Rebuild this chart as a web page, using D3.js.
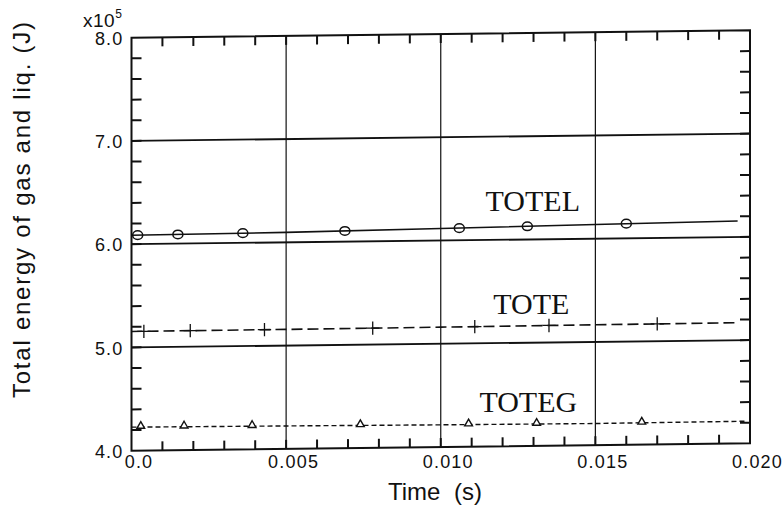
<!DOCTYPE html>
<html>
<head>
<meta charset="utf-8">
<script src="https://cdn.jsdelivr.net/npm/d3@7"></script>
<style>
  html, body { margin: 0; padding: 0; background: #fff; }
  svg { display: block; }
  .tick-label { font-family: "Liberation Sans", Arial, sans-serif; font-size: 18px; letter-spacing: 1.2px; fill: #111; }
  .axis-title { font-family: "Liberation Sans", Arial, sans-serif; font-size: 24px; fill: #111; }
  .series-label { font-family: "Liberation Serif", "Times New Roman", serif; font-size: 30px; fill: #111; }
</style>
</head>
<body>
<svg id="chart" width="784" height="512"></svg>
<script>
// Axis ranges and tick values
const timeDomain = [0, 0.02];
const energyDomain = [4.0, 8.0];
const timeTickLabels = [0, 0.005, 0.010, 0.015, 0.020];
const timeTickText = ["0.0", "0.005", "0.010", "0.015", "0.020"];
const energyTickLabels = [4.0, 5.0, 6.0, 7.0, 8.0];
const timeGrid = [0.005, 0.010, 0.015];
const energyGrid = [5.0, 6.0, 7.0];

// TOTEL (liquid) — solid line with circle markers, units of 1e5 J
const totelTime = [0, 0.005, 0.010, 0.015, 0.0196];
const totelValue = [6.086, 6.097, 6.116, 6.138, 6.155];
const totelMarkTime = [0.0002, 0.0015, 0.0036, 0.0069, 0.0106, 0.0128, 0.0160];
const totelMarkValue = [6.087, 6.089, 6.094, 6.104, 6.118, 6.128, 6.142];

// TOTE (total) — long-dashed line with plus markers
const toteTime = [0, 0.005, 0.010, 0.015, 0.0196];
const toteValue = [5.155, 5.157, 5.161, 5.166, 5.170];
const toteMarkTime = [0.0004, 0.0019, 0.0043, 0.0078, 0.0111, 0.0135, 0.0170];
const toteMarkValue = [5.155, 5.156, 5.157, 5.159, 5.162, 5.165, 5.168];

// TOTEG (gas) — short-dashed line with triangle markers
const totegTime = [0, 0.005, 0.010, 0.015, 0.0199];
const totegValue = [4.228, 4.222, 4.215, 4.210, 4.215];
const totegMarkTime = [0.0003, 0.0017, 0.0039, 0.0074, 0.0109, 0.0131, 0.0165];
const totegMarkValue = [4.228, 4.226, 4.223, 4.219, 4.214, 4.212, 4.211];

const ink = "#111";
const svg = d3.select("#chart");

const x = d3.scaleLinear().domain(timeDomain).range([131.5, 750]);
const y = d3.scaleLinear().domain(energyDomain).range([450.7, 37.7]);

// The plotting frame leans slightly, as on the original plotter sheet
const lean = Math.tan(-0.68 * Math.PI / 180);
const ly = (px, py) => py + lean * (px - x(0));

// Grid lines
svg.append("g").selectAll("line").data(timeGrid).join("line")
  .attr("x1", d => x(d)).attr("x2", d => x(d))
  .attr("y1", d => ly(x(d), y(energyDomain[1]))).attr("y2", d => ly(x(d), y(energyDomain[0])))
  .attr("stroke", ink).attr("stroke-width", 1.2);
svg.append("g").selectAll("line").data(energyGrid).join("line")
  .attr("x1", x(timeDomain[0])).attr("x2", x(timeDomain[1]))
  .attr("y1", d => ly(x(timeDomain[0]), y(d))).attr("y2", d => ly(x(timeDomain[1]), y(d)))
  .attr("stroke", ink).attr("stroke-width", 1.8);

// Inward minor ticks on all four sides
const minorTime = d3.range(1, 20).map(i => i * 0.001);
const minorEnergy = d3.range(1, 20).map(i => 4 + i * 0.2);
const tickLines = [];
minorTime.forEach(t => {
  tickLines.push({ x1: x(t), y1: ly(x(t), y(8)), x2: x(t), y2: ly(x(t), y(8)) + 9 });
  tickLines.push({ x1: x(t), y1: ly(x(t), y(4)), x2: x(t), y2: ly(x(t), y(4)) - 9 });
});
minorEnergy.forEach(v => {
  tickLines.push({ x1: x(0), y1: ly(x(0), y(v)), x2: x(0) + 10, y2: ly(x(0) + 10, y(v)) });
  tickLines.push({ x1: x(0.02), y1: ly(x(0.02), y(v)), x2: x(0.02) - 10, y2: ly(x(0.02) - 10, y(v)) });
});
svg.append("g").attr("class", "minor-ticks").selectAll("line").data(tickLines).join("line")
  .attr("x1", d => d.x1).attr("y1", d => d.y1).attr("x2", d => d.x2).attr("y2", d => d.y2)
  .attr("stroke", ink).attr("stroke-width", 2);

// Frame
const corners = [[0, 8], [0.02, 8], [0.02, 4], [0, 4]].map(([t, v]) => [x(t), ly(x(t), y(v))]);
svg.append("path").attr("d", d3.line()(corners) + "Z")
  .attr("fill", "none").attr("stroke", ink).attr("stroke-width", 2);

// Series lines
const line = d3.line().x(d => x(d[0])).y(d => ly(x(d[0]), y(d[1])));
const zip = (a, b) => a.map((v, i) => [v, b[i]]);

svg.append("path").datum(zip(totelTime, totelValue))
  .attr("d", line).attr("fill", "none").attr("stroke", ink).attr("stroke-width", 1.6);
svg.append("path").datum(zip(toteTime, toteValue))
  .attr("d", line).attr("fill", "none").attr("stroke", ink).attr("stroke-width", 1.6)
  .attr("stroke-dasharray", "11 5");
svg.append("path").datum(zip(totegTime, totegValue))
  .attr("d", line).attr("fill", "none").attr("stroke", ink).attr("stroke-width", 1.4)
  .attr("stroke-dasharray", "5 3");

// Markers
const px = d => x(d[0]);
const py = d => ly(x(d[0]), y(d[1]));
svg.append("g").selectAll("ellipse").data(zip(totelMarkTime, totelMarkValue)).join("ellipse")
  .attr("cx", px).attr("cy", py)
  .attr("rx", 5).attr("ry", 4.3)
  .attr("fill", "none").attr("stroke", ink).attr("stroke-width", 1.5);
svg.append("g").selectAll("path").data(zip(toteMarkTime, toteMarkValue)).join("path")
  .attr("transform", d => `translate(${px(d)},${py(d)})`)
  .attr("d", d3.symbol(d3.symbolPlus, 60)())
  .attr("fill", "none").attr("stroke", ink).attr("stroke-width", 1.3);
svg.append("g").selectAll("path").data(zip(totegMarkTime, totegMarkValue)).join("path")
  .attr("transform", d => `translate(${px(d)},${py(d) - 1})`)
  .attr("d", d3.symbol(d3.symbolTriangle, 26)())
  .attr("fill", "#fff").attr("stroke", ink).attr("stroke-width", 1.4);

// Series names
const seriesNames = ["TOTEL", "TOTE", "TOTEG"];
const namePos = [[0.01145, 6.28], [0.0117, 5.28], [0.01125, 4.33]];
svg.append("g").selectAll("text").data(seriesNames).join("text")
  .attr("class", "series-label")
  .attr("x", (d, i) => x(namePos[i][0]))
  .attr("y", (d, i) => ly(x(namePos[i][0]), y(namePos[i][1])))
  .text(d => d);

// Tick labels
const xl = svg.append("g").attr("transform", `translate(7,${y(4)})`)
  .call(d3.axisBottom(x).tickValues(timeTickLabels).tickSize(0).tickPadding(5)
    .tickFormat((d, i) => timeTickText[i]));
xl.select(".domain").remove();
xl.selectAll("text").attr("class", "tick-label");

const yl = svg.append("g").attr("transform", `translate(${x(0)},1)`)
  .call(d3.axisLeft(y).tickValues(energyTickLabels).tickSize(0).tickPadding(8)
    .tickFormat(d3.format(".1f")));
yl.select(".domain").remove();
yl.selectAll("text").attr("class", "tick-label");
[xl, yl].forEach(g => g.attr("font-size", null).attr("font-family", null));

// Exponent marker
const expo = svg.append("text").attr("class", "tick-label").attr("x", 83).attr("y", 27)
  .style("font-size", "19px").style("letter-spacing", "0.5px");
expo.append("tspan").text("x10");
expo.append("tspan").attr("dy", -9).style("font-size", "12px").text("5");

// Axis titles
svg.append("text").attr("class", "axis-title")
  .attr("transform", "translate(30,210) rotate(-90)")
  .attr("text-anchor", "middle")
  .attr("textLength", 376).attr("lengthAdjust", "spacing")
  .text("Total energy of gas and liq. (J)");
svg.append("text").attr("class", "axis-title").attr("x", 388).attr("y", 500).text("Time");
svg.append("text").attr("class", "axis-title").attr("x", 454).attr("y", 500).text("(s)");
</script>
</body>
</html>
